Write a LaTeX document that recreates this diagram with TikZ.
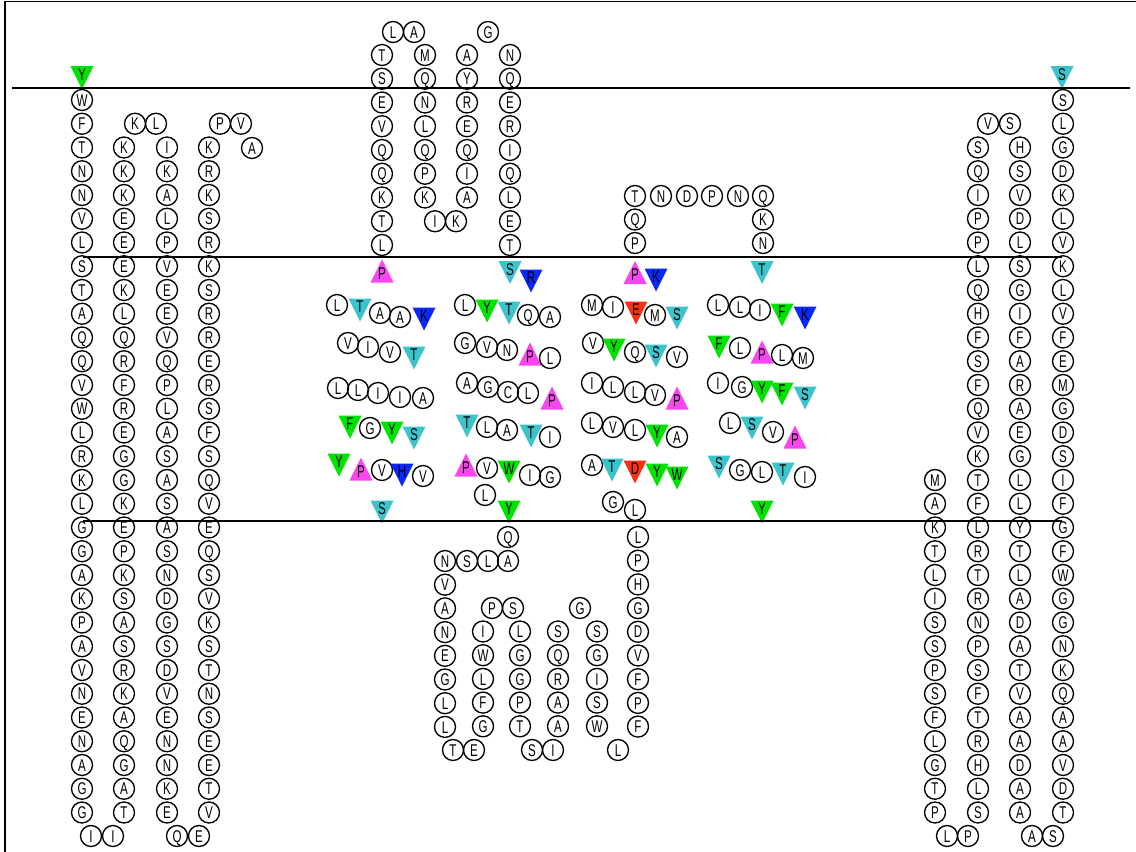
\documentclass[tikz,border=0pt]{standalone}
\usepackage{fontspec}
\newfontfamily\resfont[FakeStretch=0.68]{Liberation Sans}
\definecolor{tg}{RGB}{0,226,0}
\definecolor{tc}{RGB}{60,196,204}
\definecolor{tb}{RGB}{10,40,250}
\definecolor{tm}{RGB}{250,70,240}
\definecolor{tr}{RGB}{250,50,20}
\tikzset{
  res/.style={circle, draw=black, line width=1.35pt, minimum size=21pt, inner sep=0pt,
    font=\resfont\fontsize{17}{17}\selectfont, text height=12.2pt, text depth=0pt},
  lett/.style={inner sep=0pt, font=\resfont\fontsize{17}{17}\selectfont, text height=12.2pt, text depth=0pt},
  memb/.style={line width=2.4pt, black},
  frame/.style={line width=1.5pt, black}
}
\newcount\rn
\newcommand\R[3]{\global\advance\rn by 1\relax\node[res] (n\the\rn) at (#1,#2) {#3};}
\newcommand\TD[4]{\global\advance\rn by 1\relax
  \fill[#4] (#1-11.5,#2-11.5) -- (#1+11.5,#2-11.5) -- (#1,#2+11.5) -- cycle;
  \node[lett] (n\the\rn) at (#1,#2-3.5) {#3};}
\newcommand\TU[4]{\global\advance\rn by 1\relax
  \fill[#4] (#1-11.5,#2+11.5) -- (#1+11.5,#2+11.5) -- (#1,#2-11.5) -- cycle;
  \node[lett] (n\the\rn) at (#1,#2+2) {#3};}
\newcommand\rescol[5]{%
  \foreach \L [count=\k from 0] in {#5}{
    \node[res] (#1\k) at ({#2},{#3+\k*(#4)}) {\L};
  }}
\begin{document}
\begin{tikzpicture}[x=1pt,y=-1pt]
\useasboundingbox (0,0) rectangle (1136,852);
\fill[white] (0,0) rectangle (1136,852);
\draw[frame] (5,852) -- (5,1.5) -- (1136,1.5);

% ---------- left bundle ----------
\TD{82}{77.5}{Y}{tg}
\rescol{a}{82}{100}{23.75}{W,F,T,N,N,V,L,S,T,A,Q,Q,V,W,L,R,K,L,G,G,A,K,P,A,V,N,E,N,A,G,G}
\R{91}{836}{I}\R{113}{836}{I}
\rescol{b}{124}{147.5}{23.75}{K,K,K,E,E,E,K,L,Q,R,F,R,E,G,G,K,E,P,K,S,A,S,R,K,A,Q,G,A,T}
\R{135}{123.75}{K}\R{156}{123.75}{L}
\rescol{c}{167}{147.5}{23.75}{I,K,A,L,P,V,E,E,V,Q,P,L,A,S,A,S,A,S,N,D,G,S,D,V,E,N,N,K,E}
\R{177}{836}{Q}\R{199}{836}{E}
\rescol{d}{209}{147.5}{23.75}{K,R,K,S,R,K,S,R,R,E,R,S,F,S,Q,V,E,Q,S,V,K,S,T,N,S,E,E,T,V}
\R{220}{123.75}{P}\R{241}{123.75}{V}\R{252}{148}{A}

% ---------- top loop 1 ----------
\rescol{e}{382}{55}{23.75}{T,S,E,V,Q,Q,K,T,L}
\R{393}{32}{L}\R{414}{32}{A}
\rescol{f}{425}{55}{23.75}{M,Q,N,L,Q,P,K}
\R{435}{221.25}{I}\R{456}{221.25}{K}
\rescol{g}{467}{55}{23.75}{A,Y,R,E,Q,I,A}
\R{488}{32}{G}
\rescol{h}{510}{55}{23.75}{N,Q,E,R,I,Q,L,E,T}
\TU{382}{271}{P}{tm}
\TD{510}{272.5}{S}{tc}
\TD{531}{281}{R}{tb}

% ---------- top loop 2 ----------
\R{635}{196}{T}\R{661}{196}{N}\R{687}{196}{D}\R{712}{196}{P}\R{738}{196}{N}\R{763}{196}{Q}
\R{635}{219.5}{Q}\R{635}{243}{P}
\R{763}{219.5}{K}\R{763}{243}{N}
\TU{635}{272.5}{P}{tm}
\TD{656}{280}{K}{tb}
\TD{762}{272.5}{T}{tc}

% ---------- helix block 1 ----------
\R{337}{305}{L}\TD{360}{310}{T}{tc}\R{380}{313}{A}\R{400}{317}{A}\TD{424}{319}{K}{tb}
\R{348}{343}{V}\R{368}{347}{I}\R{390}{352}{V}\TD{414}{358}{T}{tc}
\R{338}{388}{L}\R{358}{390}{L}\R{378}{393}{I}\R{400}{397}{I}\R{423}{398}{A}
\TD{350}{427}{F}{tg}\R{370}{428}{G}\TD{392}{433}{Y}{tg}\TD{414}{438}{S}{tc}
\TD{339}{465}{Y}{tg}\TU{361}{469}{P}{tm}\R{382}{470}{V}\TD{402}{475}{H}{tb}\R{423}{476}{V}
\TD{382}{512}{S}{tc}

% ---------- helix block 2 ----------
\R{465}{305}{L}\TD{487}{311}{Y}{tg}\TD{509}{313}{T}{tc}\R{528}{315}{Q}\R{550}{317}{A}
\R{465}{343}{G}\R{487}{347}{V}\R{507}{350}{N}\TU{530}{354}{P}{tm}\R{550}{358}{L}
\R{467}{383}{A}\R{488}{387}{G}\R{508}{392}{C}\R{528}{393}{L}\TU{552}{398}{P}{tm}
\TD{467}{426}{T}{tc}\R{487}{427}{L}\R{507}{430}{A}\TD{531}{436}{T}{tc}\R{550}{437}{I}
\TU{466}{465}{P}{tm}\R{487}{468}{V}\TD{509}{472}{W}{tg}\R{530}{475}{I}\R{550}{477}{G}
\R{485}{495}{L}\TD{509}{512}{Y}{tg}

% ---------- helix block 3 ----------
\R{592}{305}{M}\R{613}{307}{I}\TD{636}{313}{E}{tr}\R{655}{315}{M}\TD{677}{318}{S}{tc}
\R{593}{343}{V}\TD{614}{350}{Y}{tg}\R{635}{352}{Q}\TD{656}{356}{S}{tc}\R{677}{357}{V}
\R{592}{383}{I}\R{613}{387}{L}\R{635}{392}{L}\R{655}{395}{V}\TU{677}{398}{P}{tm}
\R{592}{423}{L}\R{613}{427}{V}\R{635}{430}{L}\TD{657}{436}{Y}{tg}\R{677}{437}{A}
\R{592}{465}{A}\TD{612}{470}{T}{tc}\TD{635}{472}{D}{tr}\TD{657}{475}{Y}{tg}\TD{677}{478}{W}{tg}
\R{613}{502}{G}\R{635}{510}{L}

% ---------- helix block 4 ----------
\R{718}{305}{L}\R{740}{307}{L}\R{760}{310}{I}\TD{782}{315}{F}{tg}\TD{805}{318}{K}{tb}
\TD{719}{347}{F}{tg}\R{740}{348}{L}\TU{762}{352}{P}{tm}\R{782}{355}{L}\R{803}{358}{M}
\R{718}{383}{I}\R{742}{387}{G}\TD{762}{392}{Y}{tg}\TD{782}{394}{F}{tg}\TD{805}{398}{S}{tc}
\R{730}{423}{L}\TD{752}{428}{S}{tc}\R{773}{432}{V}\TU{795}{437}{P}{tm}
\TD{719}{467}{S}{tc}\R{740}{470}{G}\R{762}{472}{L}\TD{783}{474}{T}{tc}\R{805}{477}{I}
\TD{762}{512}{Y}{tg}

% ---------- lower loop ----------
\R{508}{537}{Q}
\R{445}{561}{N}\R{467}{561}{S}\R{488}{561}{L}\R{508}{561}{A}
\rescol{p}{445}{584.7}{23.7}{V,A,N,E,G,L,L}
\R{453}{750}{T}\R{474}{750}{E}
\rescol{q}{483}{631.5}{23.7}{I,W,L,F,G}
\R{492}{608}{P}\R{513}{608}{S}
\rescol{s}{520}{631.5}{23.7}{L,G,G,P,T}
\R{532}{750}{S}\R{553}{750}{I}
\rescol{t}{558}{631.5}{23.7}{S,Q,R,A,A}
\R{580}{608}{G}
\rescol{u}{597}{631.5}{23.7}{S,G,I,S,W}
\R{618}{750}{L}
\rescol{v}{638}{537}{23.7}{L,P,H,G,D,V,F,P,F}

% ---------- right bundle ----------
\rescol{w}{935}{480}{23.75}{M,A,K,T,L,I,S,S,P,S,F,L,G,T,P}
\R{947}{836}{L}\R{968}{836}{P}
\rescol{x}{978}{147.5}{23.75}{S,Q,I,P,P,L,Q,H,F,S,F,Q,V,K,T,F,L,R,T,R,N,P,S,F,T,R,H,L,S}
\R{988}{123.75}{V}\R{1010}{123.75}{S}
\rescol{y}{1020}{147.5}{23.75}{H,S,V,D,L,S,G,I,F,A,R,A,E,G,L,L,Y,T,L,A,D,A,T,V,A,A,D,A,A}
\R{1032}{836}{A}\R{1053}{836}{S}
\rescol{z}{1063}{100}{23.75}{S,L,G,D,K,L,V,K,L,V,F,E,M,G,D,S,I,F,G,F,W,G,G,N,K,Q,A,A,V,D,T}
\TD{1062}{77.5}{S}{tc}

% ---------- membrane lines ----------
\draw[memb] (12,88) -- (1130,88);
\draw[memb] (83,257) -- (1062,257);
\draw[memb] (83,521) -- (1062,521);
\end{tikzpicture}
\end{document}
